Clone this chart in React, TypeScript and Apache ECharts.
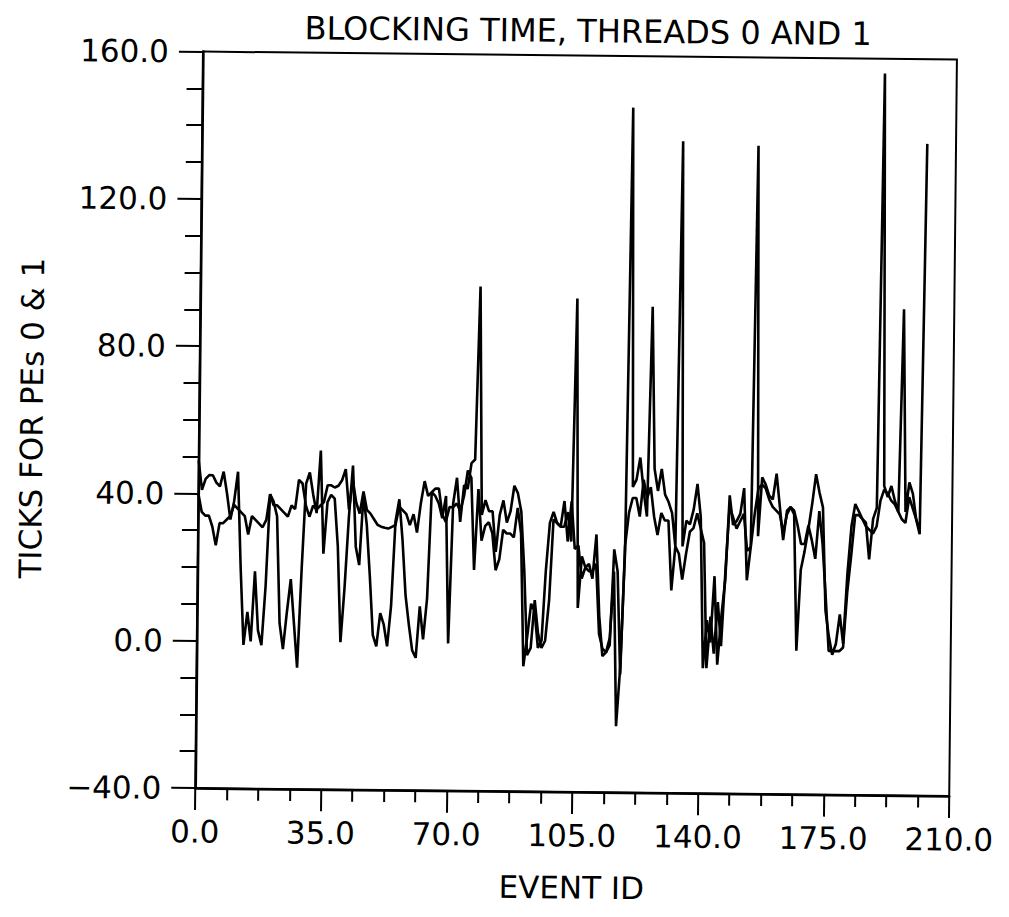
import React, { useEffect, useRef } from "react";
import * as echarts from "echarts";

const titleText = "BLOCKING TIME, THREADS 0 AND 1";
const xAxisName = "EVENT ID";
const yAxisName = "TICKS FOR PEs 0 & 1";
const xMin = 0;
const xMax = 210;
const xStep = 35;
const yMin = -40;
const yMax = 160;
const yStep = 40;
const firstEventId = 0;

// Thread 0 (smoother trace), one value per event id starting at firstEventId
const pe0Ticks = [
  40, 35, 34, 34, 31, 26, 32, 32, 33, 34, 37, 36, 35, 34, 29, 34, 33, 32, 31, 33,
  40, 37, 37, 36, 35, 34, 37, 36, 44, 43, 37, 34, 37, 36, 37, 38, 42.6, 42.6, 42, 42.5,
  44, 47, 36, 44, 38, 35, 41, 36, 35, 33.5, 32, 31.5, 31.2, 31, 31.5, 32, 37, 36, 35, 32,
  35, 30, 38, 44, 40, 41, 42, 42, 35, 33, 37, 37, 38, 36, 40, 47, 45, 20, 42, 28,
  32, 33, 30, 20, 23, 31, 30, 30, 29, 37, 30, -6, 2, 11, 9, -1, 1, 20, 33, 36,
  33, 32, 39, 28, 39, 26, 27, 18, 21, 20, 20, 22, 3, -1, -2, 0, 26, 20, -8, 27,
  36, 40, 40, 35, 45, 40, 43, 35, 30, 36, 34, 34, 15, 27, 25, 18, 25, 31, 32, 36,
  32, 28, -6, 8, -2, 12, 0, 20, 38, 35, 32, 34, 36, 26, 27, 36, 43, 44, 43, 40,
  38, 37, 36, 31, 36, 38, 37, 33, 28, 28, 33, 29, 24, 37, 28, 14, -1, -1, -1, -1,
  0, 15, 25, 36, 36, 35, 33, 32, 31, 33, 40, 43, 42, 40, 39, 37, 35, 34, 41, 38,
  35, 32,
];

// Thread 1 (dips to zero and spikes), one value per event id starting at firstEventId
const pe1Ticks = [
  49, 41, 44, 45, 45, 43, 42, 46, 40, 33, 38, 46, 20, -1, 8, 0, 19, 3, -1, 15,
  40, 38, 34, 5, -2, 8, 17, 5, -7, 20, 43, 46, 40, 35, 52, 24, 38, 40, 39, 26,
  0, 15, 34, 48, 26, 21, 40, 32, 18, 2, -1, 8, 5, -1, 10, 33, 39, 28, 13, 5,
  -2, -4, 10, 1, 12, 41, 40, 38, 34, 40, 0, 38, 45, 33, 43, 42, 49, 50, 97, 35,
  39, 36, 36, 25, 35, 39, 33, 36, 43, 41, 36, 20, -3, -1, 12, 3, -1, 1, 12, 34,
  33, 32, 32, 36, 28, 94, 10, 24, 21, 22, 18, 30, 8, -3, -2, 2, 20, -22, -6, 25,
  146, 43, 45, 51, 42, 35, 92, 48, 42, 48, 41, 39, 36, 27, 137, 27, 34, 33, 37, 44,
  35, -6, 7, 1, 19, -5, 8, 18, 41, 33, 34, 36, 43, 18, 27, 136, 30, 46, 44, 41,
  40, 47, 38, 29, 37, 38, 36, -1, 21, 26, 32, 39, 47, 42, 38, 10, 3, -2, 1, 9,
  1, 20, 33, 39, 37, 35, 34, 24, 35, 38, 156, 44, 41, 44, 40, 37, 92, 37, 45, 42,
  35, 31, 137,
];

const FONT = "DejaVu Sans";

function fmt(v: number): string {
  const s = Math.abs(v).toFixed(1);
  return v < 0 ? "\u2212" + s : s;
}

export default function App() {
  const ref = useRef<HTMLDivElement>(null);

  useEffect(() => {
    if (!ref.current) return;
    const chart = echarts.init(ref.current, null, { renderer: "svg" });
    const toPairs = (arr: number[]) => arr.map((v, i) => [firstEventId + i, v]);
    chart.setOption({
      animation: false,
      backgroundColor: "#ffffff",
      title: {
        text: titleText,
        left: 571,
        textAlign: "center",
        top: 2,
        textStyle: { fontFamily: FONT, fontSize: 32, fontWeight: "normal", color: "#000" },
      },
      grid: {
        left: 189,
        top: 47.5,
        width: 756,
        height: 753,
        show: true,
        borderColor: "#000",
        borderWidth: 2,
        backgroundColor: "transparent",
      },
      xAxis: {
        type: "value",
        min: xMin,
        max: xMax,
        interval: xStep,
        name: xAxisName,
        nameLocation: "middle",
        nameGap: 80,
        nameTextStyle: { fontFamily: FONT, fontSize: 31, color: "#000" },
        axisLine: { show: true, onZero: false, lineStyle: { color: "#000", width: 2.5 } },
        axisTick: { show: true, inside: false, length: 22, lineStyle: { color: "#000", width: 2 } },
        minorTick: { show: true, splitNumber: 4, length: 12, lineStyle: { color: "#000", width: 2 } },
        axisLabel: {
          margin: 28,
          fontFamily: FONT,
          fontSize: 31,
          color: "#000",
          formatter: (v: number) => fmt(v),
        },
        splitLine: { show: false },
        minorSplitLine: { show: false },
      },
      yAxis: {
        type: "value",
        min: yMin,
        max: yMax,
        interval: yStep,
        name: yAxisName,
        nameLocation: "middle",
        nameGap: 152,
        nameTextStyle: { fontFamily: FONT, fontSize: 31, color: "#000" },
        axisLine: { show: true, onZero: false, lineStyle: { color: "#000", width: 2.5 } },
        axisTick: { show: true, inside: false, length: 24, lineStyle: { color: "#000", width: 2 } },
        minorTick: { show: true, splitNumber: 4, length: 16, lineStyle: { color: "#000", width: 2 } },
        axisLabel: {
          margin: 34,
          fontFamily: FONT,
          fontSize: 31,
          color: "#000",
          formatter: (v: number) => fmt(v),
        },
        splitLine: { show: false },
        minorSplitLine: { show: false },
      },
      series: [
        {
          name: "PE 0",
          type: "line",
          data: toPairs(pe0Ticks),
          showSymbol: false,
          symbol: "none",
          lineStyle: { color: "#000", width: 2.6 },
          z: 3,
        },
        {
          name: "PE 1",
          type: "line",
          data: toPairs(pe1Ticks),
          showSymbol: false,
          symbol: "none",
          lineStyle: { color: "#000", width: 2.6 },
          z: 4,
        },
      ],
    });
    return () => chart.dispose();
  }, []);

  return (
    <div style={{ width: 993, height: 900, overflow: "hidden", background: "#fff" }}>
      <div
        ref={ref}
        style={{
          width: 993,
          height: 900,
          transform: "rotate(0.6deg)",
          transformOrigin: "567px 424px",
        }}
      />
    </div>
  );
}
